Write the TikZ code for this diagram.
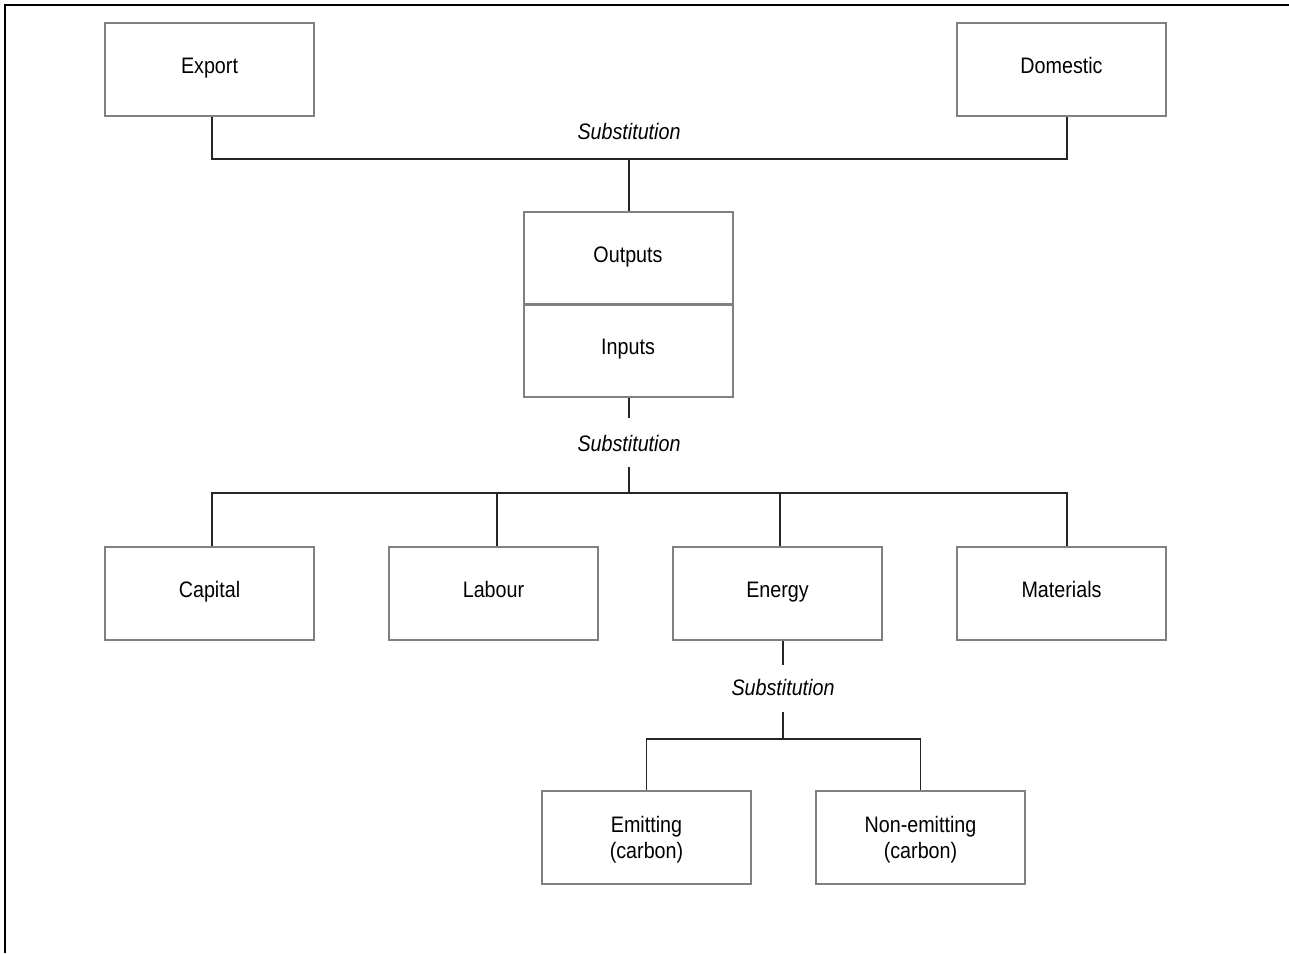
\documentclass[tikz,border=0pt]{standalone}
\usepackage{fontspec}
\setmainfont{Liberation Sans}[FakeStretch=0.88]
\begin{document}
\begin{tikzpicture}[x=1pt,y=-1pt,
  boxbase/.style={draw=black!50,line width=2pt,minimum width=209pt,minimum height=93pt,inner sep=0pt,align=center,font=\fontsize{22.4}{26}\selectfont},
  box/.style={boxbase,text height=15pt,text depth=7pt},
  lbl/.style={inner sep=0pt,font=\fontsize{22.4}{24}\selectfont\itshape},
  conn/.style={draw=black!85,line width=1.5pt}]
\useasboundingbox (0,0) rectangle (1289,953);
\draw[line width=2pt] (4.5,953) -- (4.5,4.5) -- (1289,4.5);
% top row
\node[box] (export) at (209.5,69.5) {Export};
\node[box] (domestic) at (1061.5,69.5) {Domestic};
\node[box] (outputs) at (628,258) {Outputs};
\node[box] (inputs) at (628,350) {Inputs};
\node[lbl] (sub1) at (629,131) {Substitution};
\coordinate (bus1) at (629,159);
\draw[conn] ([xshift=2.5pt]export.south) |- (bus1) -| ([xshift=5.5pt]domestic.south);
\draw[conn] (bus1) -- ([xshift=1pt]outputs.north);
% middle
\node[lbl] (sub2) at (629,443) {Substitution};
\coordinate (bus2) at (629,493);
\node[box] (capital) at (209.5,593) {Capital};
\node[box] (labour) at (493.5,593) {Labour};
\node[box] (energy) at (777.5,593) {Energy};
\node[box] (materials) at (1061.5,593) {Materials};
\draw[conn] ([xshift=1pt]inputs.south) -- (629,418);
\draw[conn] (629,467) -- (bus2);
\draw[conn] ([xshift=2.5pt]capital.north) |- (bus2) -| ([xshift=5.5pt]materials.north);
\draw[conn] ([xshift=3.5pt]labour.north) -- ++(0,-54);
\draw[conn] ([xshift=2.5pt]energy.north) -- ++(0,-54);
% bottom
\node[lbl] (sub3) at (783,687) {Substitution};
\coordinate (bus3) at (783,739);
\node[boxbase] (emit) at (646.5,837) {\rule{0pt}{22pt}Emitting\\(carbon)};
\node[boxbase] (nonemit) at (920.5,837) {\rule{0pt}{22pt}Non-emitting\\(carbon)};
\draw[conn] ([xshift=5.5pt]energy.south) -- ++(0,24);
\draw[conn] (783,712) -- (bus3);
\draw[conn] (emit.north) |- (bus3) -| (nonemit.north);
\end{tikzpicture}
\end{document}
